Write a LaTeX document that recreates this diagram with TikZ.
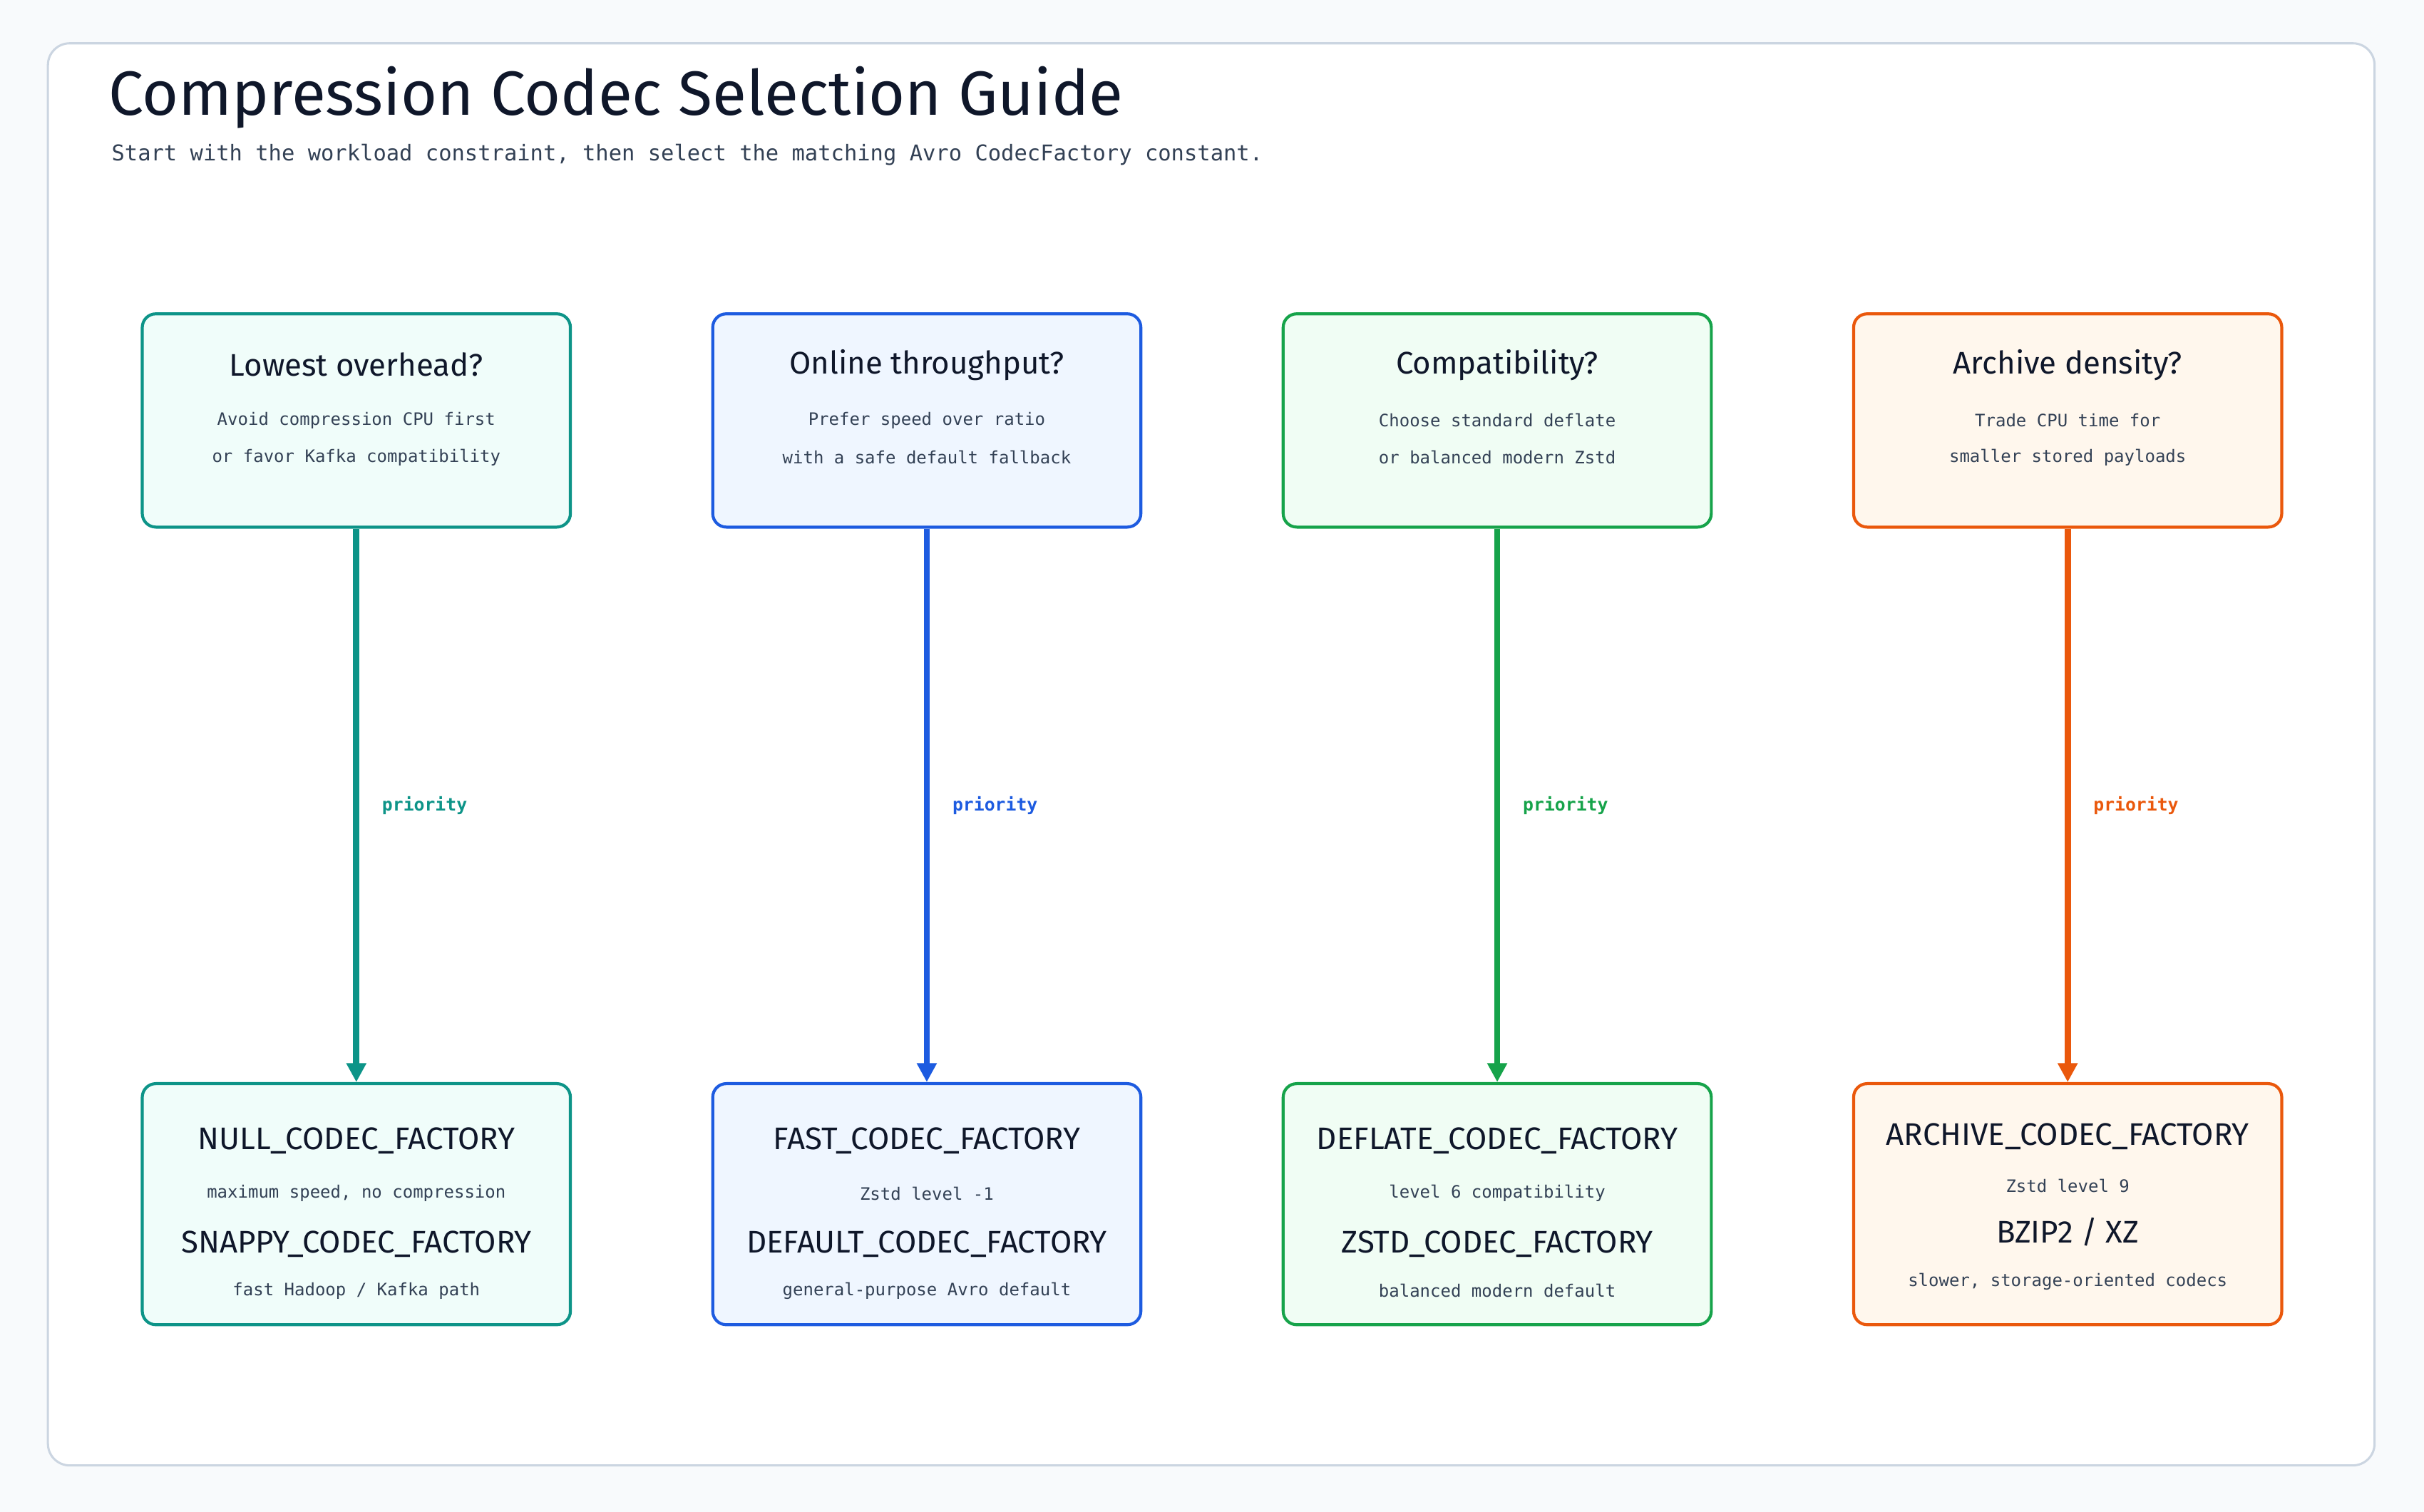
\documentclass[tikz,border=0pt]{standalone}
\usepackage{fontspec}
\setmainfont{Fira Sans}
\setmonofont{DejaVu Sans Mono}
\usetikzlibrary{positioning, arrows.meta}
\definecolor{tealC}{HTML}{0D9488}\definecolor{tealF}{HTML}{F0FDFA}
\definecolor{blueC}{HTML}{1D5BE0}\definecolor{blueF}{HTML}{EFF6FF}
\definecolor{greenC}{HTML}{16A34A}\definecolor{greenF}{HTML}{F0FDF4}
\definecolor{orangeC}{HTML}{EA580C}\definecolor{orangeF}{HTML}{FFF7ED}
\definecolor{inkC}{HTML}{0F172A}\definecolor{subC}{HTML}{334155}
\definecolor{pageC}{HTML}{F8FAFC}\definecolor{edgeC}{HTML}{CBD5E1}
\tikzset{
  box/.style={draw=#1C, fill=#1F, line width=1.1pt, rounded corners=5pt, minimum width=5.54cm},
  qbox/.style={box=#1, minimum height=2.76cm},
  cbox/.style={box=#1, minimum height=3.12cm},
  head/.style={font=\fontsize{11.5}{13}\selectfont, text=inkC},
  note/.style={font=\ttfamily\fontsize{6.3}{8}\selectfont, text=subC},
  flow/.style={draw=#1C, line width=2.3pt, -{Triangle[length=7pt,width=7pt]}},
  tag/.style={font=\ttfamily\bfseries\fontsize{6.5}{8}\selectfont, text=#1C, right=5pt}
}
\begin{document}
\begin{tikzpicture}[x=0.02cm, y=-0.02cm]
\fill[pageC] (0,0) rectangle (1568,978);
\draw[draw=edgeC, fill=white, line width=0.8pt, rounded corners=8pt] (31,28) rectangle (1536,948);
\node[anchor=west, font=\fontsize{23}{28}\selectfont, text=inkC] (title) at (64,63) {Compression Codec Selection Guide};
\node[anchor=west, font=\ttfamily\fontsize{8}{10}\selectfont, text=subC] (subtitle) at (66,100) {Start with the workload constraint, then select the matching Avro CodecFactory constant.};

% constraint boxes
\node[qbox=teal] (q1) at (230.5,272) {};
\node[qbox=blue] (q2) at (599.5,272) {};
\node[qbox=green] (q3) at (968.5,272) {};
\node[qbox=orange] (q4) at (1337.5,272) {};
\node[head] (q1h) at (230.5,236) {Lowest overhead?};
\node[note] (q1a) at (230.5,272) {Avoid compression CPU first};
\node[note] (q1b) at (230.5,296) {or favor Kafka compatibility};
\node[head] (q2h) at (599.5,236) {Online throughput?};
\node[note] (q2a) at (599.5,272) {Prefer speed over ratio};
\node[note] (q2b) at (599.5,296) {with a safe default fallback};
\node[head] (q3h) at (968.5,236) {Compatibility?};
\node[note] (q3a) at (968.5,272) {Choose standard deflate};
\node[note] (q3b) at (968.5,296) {or balanced modern Zstd};
\node[head] (q4h) at (1337.5,236) {Archive density?};
\node[note] (q4a) at (1337.5,272) {Trade CPU time for};
\node[note] (q4b) at (1337.5,296) {smaller stored payloads};

% codec boxes
\node[cbox=teal] (c1) at (230.5,779) {};
\node[cbox=blue] (c2) at (599.5,779) {};
\node[cbox=green] (c3) at (968.5,779) {};
\node[cbox=orange] (c4) at (1337.5,779) {};
\node[head] (c1h) at (230.5,738) {NULL\_CODEC\_FACTORY};
\node[note] (c1a) at (230.5,772) {maximum speed, no compression};
\node[head] (c1i) at (230.5,805) {SNAPPY\_CODEC\_FACTORY};
\node[note] (c1b) at (230.5,835) {fast Hadoop / Kafka path};
\node[head] (c2h) at (599.5,738) {FAST\_CODEC\_FACTORY};
\node[note] (c2a) at (599.5,772) {Zstd level -1};
\node[head] (c2i) at (599.5,805) {DEFAULT\_CODEC\_FACTORY};
\node[note] (c2b) at (599.5,835) {general-purpose Avro default};
\node[head] (c3h) at (968.5,738) {DEFLATE\_CODEC\_FACTORY};
\node[note] (c3a) at (968.5,772) {level 6 compatibility};
\node[head] (c3i) at (968.5,805) {ZSTD\_CODEC\_FACTORY};
\node[note] (c3b) at (968.5,835) {balanced modern default};
\node[head] (c4h) at (1337.5,735) {ARCHIVE\_CODEC\_FACTORY};
\node[note] (c4a) at (1337.5,767) {Zstd level 9};
\node[head] (c4i) at (1337.5,797) {BZIP2 / XZ};
\node[note] (c4b) at (1337.5,829) {slower, storage-oriented codecs};

% priority arrows
\draw[flow=teal] (q1) -- (c1) node[midway, tag=teal] {priority};
\draw[flow=blue] (q2) -- (c2) node[midway, tag=blue] {priority};
\draw[flow=green] (q3) -- (c3) node[midway, tag=green] {priority};
\draw[flow=orange] (q4) -- (c4) node[midway, tag=orange] {priority};
\end{tikzpicture}
\end{document}
